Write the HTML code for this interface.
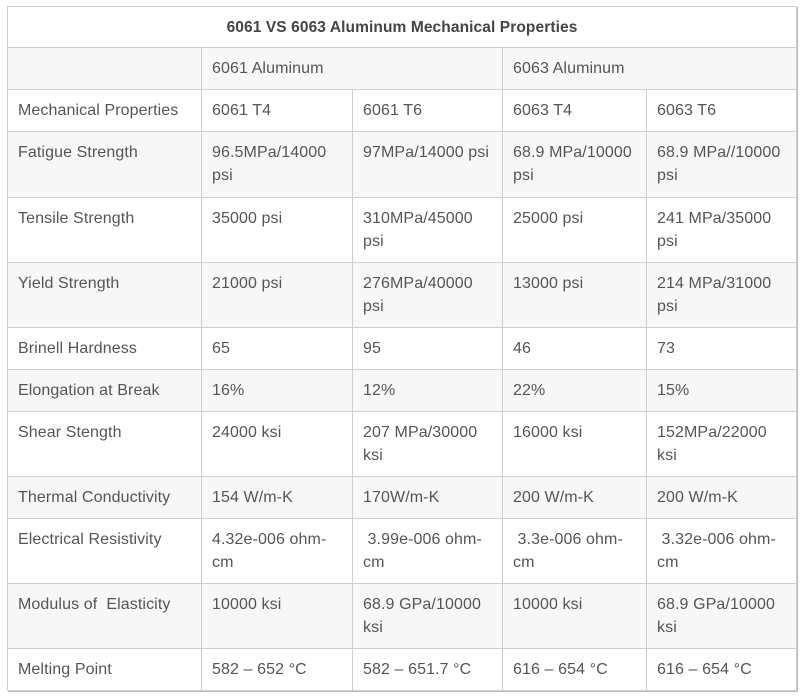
<!DOCTYPE html>
<html><head><style>
body{margin:0;background:#fff;width:804px;height:699px;overflow:hidden;font-family:"Liberation Sans",sans-serif;}
table{position:absolute;left:7px;top:6px;border-collapse:collapse;table-layout:fixed;width:789px;box-shadow:1px 1px 0 #bbb;}
td{border:1px solid #cfcfcf;color:#555;font-size:16px;letter-spacing:0.1px;line-height:23px;padding:9px 10px 8px 10px;vertical-align:top;word-wrap:break-word;}
tr.g td{background:#f7f7f7;}
td.t{text-align:center;font-weight:bold;color:#444;font-size:15.5px;padding:9px 10px 8px;}
</style></head><body>
<table>
<colgroup><col style="width:194px"><col style="width:151px"><col style="width:150px"><col style="width:144px"><col style="width:150px"></colgroup>
<tr style="height:41px"><td class="t" colspan="5">6061 VS 6063 Aluminum Mechanical Properties</td></tr>
<tr class="g" style="height:42px"><td></td><td colspan="2">6061 Aluminum</td><td colspan="2">6063 Aluminum</td></tr>
<tr style="height:42px"><td>Mechanical Properties</td><td>6061 T4</td><td>6061 T6</td><td>6063 T4</td><td>6063 T6</td></tr>
<tr class="g" style="height:66px"><td>Fatigue Strength</td><td>96.5MPa/14000 psi</td><td>97MPa/14000 psi</td><td>68.9 MPa/10000 psi</td><td>68.9 MPa//10000 psi</td></tr>
<tr style="height:65px"><td>Tensile Strength</td><td>35000 psi</td><td>310MPa/45000 psi</td><td>25000 psi</td><td>241 MPa/35000 psi</td></tr>
<tr class="g" style="height:65px"><td>Yield Strength</td><td>21000 psi</td><td>276MPa/40000 psi</td><td>13000 psi</td><td>214 MPa/31000 psi</td></tr>
<tr style="height:42px"><td>Brinell Hardness</td><td>65</td><td>95</td><td>46</td><td>73</td></tr>
<tr class="g" style="height:42px"><td>Elongation at Break</td><td>16%</td><td>12%</td><td>22%</td><td>15%</td></tr>
<tr style="height:65px"><td>Shear Stength</td><td>24000 ksi</td><td>207 MPa/30000 ksi</td><td>16000 ksi</td><td>152MPa/22000 ksi</td></tr>
<tr class="g" style="height:42px"><td>Thermal Conductivity</td><td>154 W/m-K</td><td>170W/m-K</td><td>200 W/m-K</td><td>200 W/m-K</td></tr>
<tr style="height:65px"><td>Electrical Resistivity</td><td>4.32e-006 ohm-cm</td><td>&nbsp;3.99e-006 ohm-cm</td><td>&nbsp;3.3e-006 ohm-cm</td><td>&nbsp;3.32e-006 ohm-cm</td></tr>
<tr class="g" style="height:65px"><td>Modulus of &nbsp;Elasticity</td><td>10000 ksi</td><td>68.9 GPa/10000 ksi</td><td>10000 ksi</td><td>68.9 GPa/10000 ksi</td></tr>
<tr style="height:42px"><td>Melting Point</td><td>582 – 652 °C</td><td>582 – 651.7 °C</td><td>616 – 654 °C</td><td>616 – 654 °C</td></tr>
</table>
</body></html>
